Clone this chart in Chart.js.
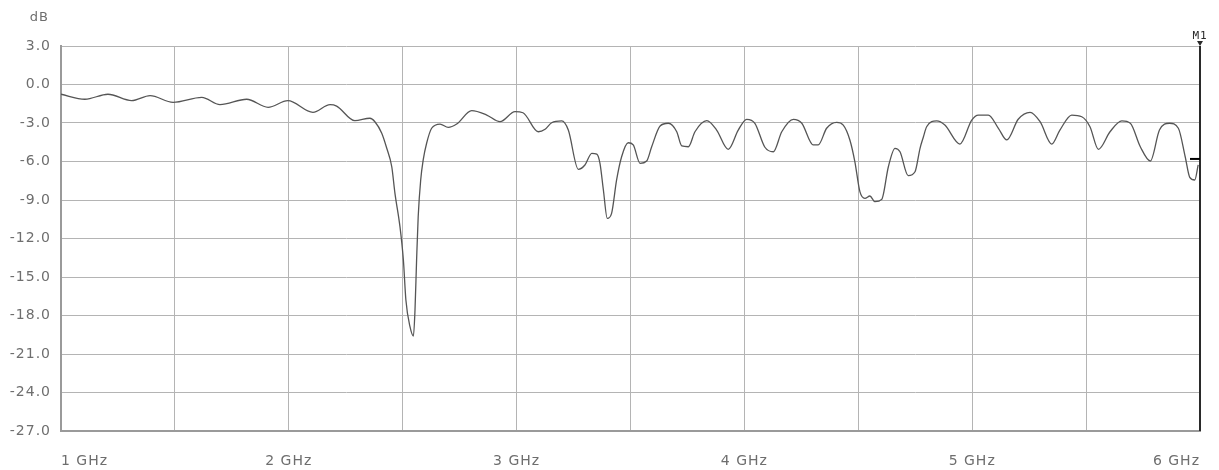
<!DOCTYPE html>
<html>
<head>
<meta charset="utf-8">
<script src="https://cdn.jsdelivr.net/npm/chart.js@4/dist/chart.umd.min.js"></script>
<style>
  html, body { margin: 0; padding: 0; background: #fff; }
  #wrap { width: 1219px; height: 470px; }
</style>
</head>
<body>
<div id="wrap"><canvas id="c" width="1219" height="470"></canvas></div>
<script>
// trace (frequency in GHz, level in dB)
var freqGHz = [
  1.00, 1.105, 1.206, 1.310, 1.391, 1.492, 1.618, 1.698, 1.815, 1.909,
  1.996, 2.106, 2.181, 2.210, 2.290, 2.356, 2.378, 2.408, 2.430, 2.452,
  2.466, 2.488, 2.503, 2.514, 2.532, 2.547, 2.554, 2.561, 2.568, 2.579,
  2.590, 2.605, 2.627, 2.664, 2.700, 2.737, 2.803, 2.869, 2.927, 2.993,
  3.028, 3.095, 3.125, 3.154, 3.198, 3.227, 3.271, 3.300, 3.330, 3.352,
  3.366, 3.381, 3.398, 3.417, 3.439, 3.461, 3.490, 3.512, 3.542, 3.571,
  3.593, 3.630, 3.666, 3.703, 3.725, 3.754, 3.783, 3.835, 3.878, 3.929,
  3.973, 4.010, 4.046, 4.090, 4.127, 4.164, 4.215, 4.252, 4.302, 4.324,
  4.361, 4.405, 4.434, 4.463, 4.485, 4.507, 4.529, 4.551, 4.573, 4.603,
  4.632, 4.661, 4.683, 4.719, 4.749, 4.771, 4.786, 4.800, 4.844, 4.880,
  4.946, 4.998, 5.027, 5.071, 5.115, 5.152, 5.202, 5.254, 5.298, 5.349,
  5.385, 5.437, 5.481, 5.517, 5.554, 5.605, 5.657, 5.694, 5.738, 5.782,
  5.822, 5.866, 5.905, 5.935, 5.955, 5.977, 5.992
];
var levelDb = [
  -0.76, -1.15, -0.76, -1.26, -0.87, -1.39, -1.00, -1.57, -1.15, -1.78,
  -1.26, -2.17, -1.57, -1.68, -2.82, -2.63, -2.90, -3.80, -4.97, -6.41,
  -8.48, -11.08, -13.68, -16.79, -18.87, -19.60, -17.57, -13.68, -10.30, -7.44,
  -5.88, -4.58, -3.41, -3.08, -3.34, -3.08, -2.04, -2.38, -2.90, -2.12,
  -2.20, -3.68, -3.49, -2.98, -2.84, -3.55, -6.61, -6.27, -5.36, -5.42,
  -6.14, -8.22, -10.43, -10.04, -7.44, -5.63, -4.54, -4.71, -6.14, -5.96,
  -4.85, -3.23, -3.02, -3.68, -4.79, -4.85, -3.68, -2.82, -3.55, -5.05,
  -3.55, -2.71, -3.02, -4.89, -5.24, -3.68, -2.71, -3.02, -4.71, -4.71,
  -3.41, -2.95, -3.16, -4.32, -6.02, -8.35, -8.87, -8.69, -9.13, -8.95,
  -6.41, -4.97, -5.24, -7.10, -6.80, -4.97, -4.07, -3.29, -2.84, -3.16,
  -4.64, -2.77, -2.38, -2.38, -3.41, -4.32, -2.71, -2.17, -2.90, -4.64,
  -3.55, -2.38, -2.51, -3.29, -5.05, -3.68, -2.84, -3.02, -4.85, -5.96,
  -3.55, -3.02, -3.41, -5.63, -7.23, -7.44, -6.27
];

var yTicks = [3, 0, -3, -6, -9, -12, -15, -18, -21, -24, -27];
var xLabels = ['1 GHz', '2 GHz', '3 GHz', '4 GHz', '5 GHz', '6 GHz'];
var yUnit = 'dB';

var markerName = 'M1';
var markerFreq = 6.0;
var markerDb = -5.8;

var points = freqGHz.map(function (f, i) { return { x: f, y: levelDb[i] }; });

var textGrey = '#6e6e6e';

var spacing = {
  id: 'spacing',
  beforeDraw: function (chart) { chart.ctx.letterSpacing = '1px'; }
};

var marker = {
  id: 'marker',
  afterDatasetsDraw: function (chart) {
    var ctx = chart.ctx, area = chart.chartArea;
    var x = chart.scales.x, y = chart.scales.y;
    var px = x.getPixelForValue(markerFreq);
    var py = y.getPixelForValue(markerDb);
    ctx.save();
    // marker line
    ctx.strokeStyle = '#2a2a2a';
    ctx.lineWidth = 2;
    ctx.beginPath();
    ctx.moveTo(px, area.top);
    ctx.lineTo(px, area.bottom);
    ctx.stroke();
    // level tick
    ctx.strokeStyle = '#000';
    ctx.lineWidth = 2;
    ctx.beginPath();
    ctx.moveTo(px - 10, py);
    ctx.lineTo(px, py);
    ctx.stroke();
    // little triangle + name
    ctx.fillStyle = '#2a2a2a';
    ctx.beginPath();
    ctx.moveTo(px - 3, area.top - 5);
    ctx.lineTo(px + 3, area.top - 5);
    ctx.lineTo(px, area.top);
    ctx.closePath();
    ctx.fill();
    ctx.letterSpacing = '1px';
    ctx.font = '11px "DejaVu Sans Mono"';
    ctx.textAlign = 'center';
    ctx.textBaseline = 'bottom';
    ctx.fillText(markerName, px, area.top - 4);
    // unit label
    ctx.fillStyle = textGrey;
    ctx.font = '13px "DejaVu Sans"';
    ctx.textAlign = 'right';
    ctx.textBaseline = 'middle';
    ctx.fillText(yUnit, 49, 18);
    ctx.restore();
  }
};

new Chart(document.getElementById('c'), {
  type: 'line',
  data: {
    datasets: [{
      data: points,
      borderColor: '#555',
      borderWidth: 1.3,
      pointRadius: 0,
      fill: false,
      cubicInterpolationMode: 'monotone'
    }]
  },
  options: {
    responsive: false,
    animation: false,
    events: [],
    layout: { padding: { left: 0, right: 19, top: 46, bottom: 0 } },
    plugins: { legend: { display: false }, tooltip: { enabled: false } },
    scales: {
      x: {
        type: 'linear',
        min: 1, max: 6,
        afterFit: function (s) { s.height = 39; s.paddingLeft = 0; s.paddingRight = 0; },
        afterBuildTicks: function (s) {
          var t = [];
          for (var i = 0; i <= 10; i++) t.push({ value: 1 + i * 0.5 });
          s.ticks = t;
        },
        grid: { color: '#b4b4b4', lineWidth: 1, drawTicks: false },
        border: { color: '#9a9a9a', width: 2 },
        ticks: {
          autoSkip: false,
          maxRotation: 0,
          align: 'inner',
          padding: 22,
          color: textGrey,
          font: { family: 'DejaVu Sans', size: 14 },
          callback: function (v) {
            var k = v - 1;
            return (Math.abs(k - Math.round(k)) < 1e-6) ? xLabels[Math.round(k)] : '';
          }
        }
      },
      y: {
        min: -27, max: 3,
        afterFit: function (s) { s.width = 61; s.paddingTop = 0; s.paddingBottom = 0; },
        afterBuildTicks: function (s) {
          s.ticks = yTicks.map(function (v) { return { value: v }; });
        },
        grid: { color: '#b4b4b4', lineWidth: 1, drawTicks: false },
        border: { color: '#9a9a9a', width: 2 },
        ticks: {
          padding: 10,
          color: textGrey,
          font: { family: 'DejaVu Sans', size: 14 },
          callback: function (v) { return v.toFixed(1); }
        }
      }
    }
  },
  plugins: [spacing, marker]
});
</script>
</body>
</html>
